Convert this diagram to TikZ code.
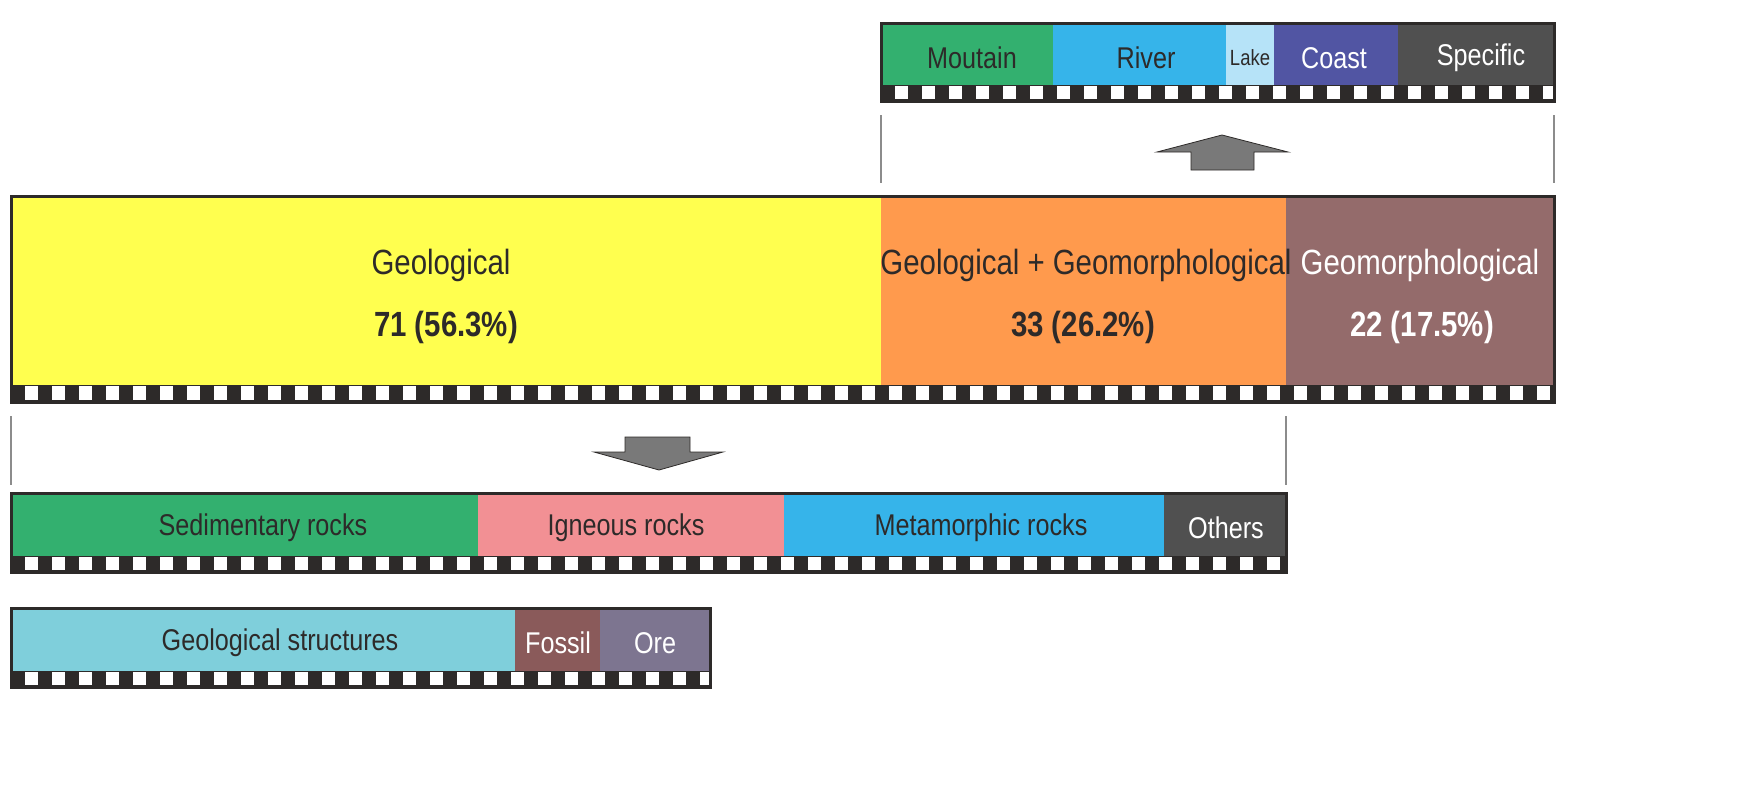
\documentclass[tikz,border=0pt]{standalone}
\usepackage{fontspec}
\setmainfont[FakeStretch=0.84]{Liberation Sans}
\definecolor{fr}{HTML}{2D2A29}
\definecolor{cyel}{HTML}{FFFF4F}
\definecolor{cora}{HTML}{FF9A4D}
\definecolor{cbro}{HTML}{946B6B}
\definecolor{cgre}{HTML}{33B06F}
\definecolor{cpin}{HTML}{F29094}
\definecolor{cblu}{HTML}{36B4EA}
\definecolor{cdar}{HTML}{505050}
\definecolor{clbl}{HTML}{B6E3F8}
\definecolor{ccoa}{HTML}{5155A3}
\definecolor{ccya}{HTML}{7FCFDB}
\definecolor{cfos}{HTML}{8A5A5A}
\definecolor{core}{HTML}{7D7590}
\definecolor{txt}{HTML}{2D2A29}
\newcommand{\checker}[4]{% x1 x2 y1 y2
  \fill[fr] (#1,#3) rectangle (#2,#4);
  \begin{scope}\clip (#1,#3) rectangle (#2,#4);
  \foreach \k in {0,...,60}{\fill[white] ({#1+13.5+27*\k},{#3+1}) rectangle ({#1+27+27*\k},{#4-2});}
  \end{scope}}
\tikzset{lab/.style={font=\fontsize{30}{34}\selectfont, text=txt, inner sep=0},
  wl/.style={lab, text=white},
  big/.style={font=\fontsize{35}{40}\selectfont, text=txt, inner sep=0},
  bign/.style={big, font=\fontsize{35}{40}\selectfont\bfseries},
  frame/.style={draw=fr, line width=3pt},
  vl/.style={draw=gray!90, line width=2pt},
  arr/.style={fill=gray!95!black, draw=fr, line width=0.8pt}}
\begin{document}
\begin{tikzpicture}[x=1pt,y=-1pt]
\useasboundingbox (0,0) rectangle (1742,790);
% top bar
\fill[cgre] (881,23) rectangle (1053,85);
\fill[cblu] (1053,23) rectangle (1226,85);
\fill[clbl] (1226,23) rectangle (1274,85);
\fill[ccoa] (1274,23) rectangle (1398,85);
\fill[cdar] (1398,23) rectangle (1554,85);
\checker{881}{1554}{85}{101}
\draw[frame] (881,23) rectangle (1554,101);
\node[lab] (mo) at (972,58) {Moutain};
\node[lab] (ri) at (1146,58) {River};
\node[lab,font=\fontsize{22}{26}\selectfont] (la) at (1250,58) {Lake};
\node[wl] (co) at (1334,58) {Coast};
\node[wl] (sp) at (1481,58) {Specific};
\coordinate (t1) at (881,115); \coordinate (t2) at (881,183);
\coordinate (t3) at (1554,115); \coordinate (t4) at (1554,183);
\draw[vl] (t1) -- (t2); \draw[vl] (t3) -- (t4);
\draw[arr] (1222,135) -- (1288,152) -- (1254,152) -- (1254,170) -- (1191,170) -- (1191,152) -- (1157,152) -- cycle;
% main bar
\fill[cyel] (11,196) rectangle (881,385);
\fill[cora] (881,196) rectangle (1286,385);
\fill[cbro] (1286,196) rectangle (1554,385);
\checker{11}{1554}{385}{402}
\draw[frame] (11,196) rectangle (1554,402);
\node[big] (g1) at (441,265) {Geological};
\node[bign] (g1n) at (446,327) {71 (56.3\%)};
\node[big] (g2) at (1086,265) {Geological + Geomorphological};
\node[bign] (g2n) at (1083,327) {33 (26.2\%)};
\node[big,text=white] (g3) at (1420,265) {Geomorphological};
\node[bign,text=white] (g3n) at (1422,327) {22 (17.5\%)};
\coordinate (b1) at (11,416); \coordinate (b2) at (11,485);
\coordinate (b3) at (1286,416); \coordinate (b4) at (1286,485);
\draw[vl] (b1) -- (b2); \draw[vl] (b3) -- (b4);
\draw[arr] (659,470) -- (723,452) -- (690,452) -- (690,437) -- (625,437) -- (625,452) -- (594,452) -- cycle;
% rocks
\fill[cgre] (11,493) rectangle (478,556);
\fill[cpin] (478,493) rectangle (784,556);
\fill[cblu] (784,493) rectangle (1164,556);
\fill[cdar] (1164,493) rectangle (1286,556);
\checker{11}{1286}{556}{572}
\draw[frame] (11,493) rectangle (1286,572);
\node[lab] (sr) at (263,528) {Sedimentary rocks};
\node[lab] (ir) at (626,528) {Igneous rocks};
\node[lab] (mr) at (981,528) {Metamorphic rocks};
\node[wl] (ot) at (1226,528) {Others};
% bottom
\fill[ccya] (11,608) rectangle (515,671);
\fill[cfos] (515,608) rectangle (600,671);
\fill[core] (600,608) rectangle (710,671);
\checker{11}{710}{671}{687}
\draw[frame] (11,608) rectangle (710,687);
\node[lab] (gs) at (280,643) {Geological structures};
\node[wl] (fo) at (558,643) {Fossil};
\node[wl] (or) at (655,643) {Ore};
\end{tikzpicture}
\end{document}
